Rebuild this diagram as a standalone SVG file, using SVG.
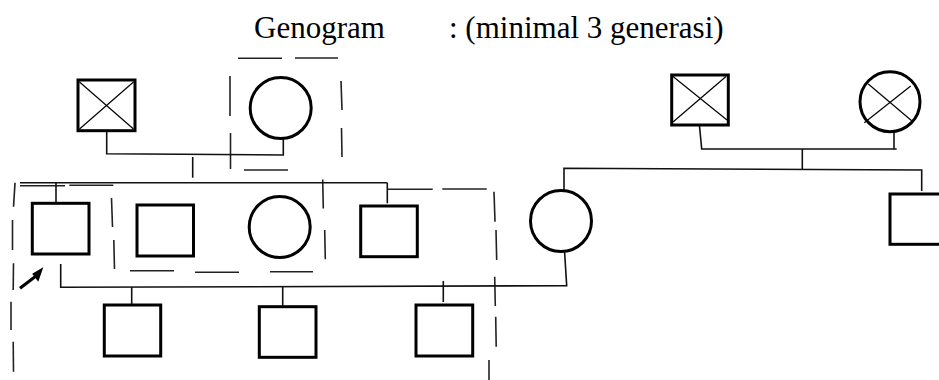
<svg xmlns="http://www.w3.org/2000/svg" width="939" height="380" viewBox="0 0 939 380">
  <defs>
    <style>
      .title { font-family: "Liberation Serif", "Times New Roman", serif; font-size: 31px; fill: #000; }
      .male, .female { fill: #fff; stroke: #000; stroke-width: 3; }
      .cross { stroke: #000; stroke-width: 1.2; fill: none; }
      .link { stroke: #111; stroke-width: 1.6; fill: none; }
      .dash { stroke: #222; stroke-width: 1.6; fill: none; }
    </style>
  </defs>

  <rect width="939" height="380" fill="#fff"/>

  <!-- heading -->
  <text class="title" x="254" y="38">Genogram</text>
  <text class="title" x="449" y="38">: (minimal 3 generasi)</text>

  <!-- household boundaries (dashed, hand drawn) -->
  <g id="boundaries" class="dash">
    <!-- around the paternal grandmother -->
    <line x1="238" y1="58.3" x2="282" y2="58.3"/>
    <line x1="295" y1="58" x2="338" y2="58"/>
    <line x1="230" y1="76" x2="230" y2="116"/>
    <line x1="230.5" y1="133" x2="230.5" y2="169"/>
    <line x1="341" y1="81" x2="342" y2="110"/>
    <line x1="341.5" y1="128" x2="342" y2="157"/>
    <line x1="244" y1="170" x2="288" y2="170"/>
    <!-- around the inner siblings -->
    <line x1="111.5" y1="198" x2="112.5" y2="227"/>
    <line x1="113.8" y1="240" x2="114.5" y2="269"/>
    <line x1="130" y1="270.7" x2="174" y2="270.7"/>
    <line x1="195" y1="272.3" x2="239" y2="272.3"/>
    <line x1="270" y1="271.7" x2="313" y2="271.7"/>
    <line x1="322.7" y1="179.5" x2="323.3" y2="208.5"/>
    <line x1="324.7" y1="230" x2="325.3" y2="259.3"/>
    <!-- around the proband's household -->
    <line x1="20" y1="185.7" x2="65" y2="185.7"/>
    <line x1="69.3" y1="185.3" x2="113.3" y2="185.3"/>
    <line x1="15" y1="182.7" x2="13.5" y2="206.7"/>
    <line x1="12.5" y1="220" x2="12.5" y2="250"/>
    <line x1="13.5" y1="263.3" x2="13.2" y2="290"/>
    <line x1="11" y1="301.7" x2="11" y2="330"/>
    <line x1="13.2" y1="341.7" x2="13.5" y2="371.7"/>
    <line x1="388" y1="189.3" x2="432.7" y2="189.3"/>
    <line x1="442.3" y1="189" x2="486.7" y2="189"/>
    <line x1="494" y1="191.7" x2="495" y2="221.7"/>
    <line x1="496" y1="230" x2="496.7" y2="260"/>
    <line x1="494.7" y1="276.7" x2="495.3" y2="306"/>
    <line x1="495.7" y1="316.7" x2="496.2" y2="346.7"/>
    <line x1="489" y1="360" x2="489" y2="380"/>
  </g>

  <!-- relationship lines -->
  <g id="connectors" class="link">
    <!-- paternal grandparents -->
    <polyline points="106.7,131 106.7,153.7 283.3,155 283.3,138.7"/>
    <line x1="192.7" y1="157" x2="192.7" y2="177.7"/>
    <!-- sibling line of the middle generation -->
    <line x1="20" y1="182.7" x2="387.3" y2="182.7"/>
    <line x1="56" y1="182.7" x2="56" y2="203.3"/>
    <line x1="387.3" y1="182.7" x2="387.3" y2="203.3"/>
    <!-- maternal grandparents -->
    <polyline points="699.3,124 701.7,149 896.7,149"/>
    <line x1="894" y1="126.7" x2="894" y2="149"/>
    <line x1="802.3" y1="149" x2="802.3" y2="170"/>
    <polyline points="564,190 564,168.3 921.7,170 921.7,191"/>
    <!-- marriage of the proband's parents -->
    <polyline points="60.7,264 60.7,287.3 566.7,285.7 564.5,250.7"/>
    <!-- children -->
    <line x1="131.7" y1="287" x2="131.7" y2="305"/>
    <line x1="282.7" y1="286" x2="282.7" y2="306.7"/>
    <line x1="443.3" y1="281" x2="443.3" y2="302"/>
  </g>

  <!-- proband pointer -->
  <g id="pointer">
    <line x1="20" y1="288.3" x2="36" y2="276" stroke="#000" stroke-width="3"/>
    <polygon points="43.3,267.3 32.2,273.8 38.3,281.7" fill="#000"/>
  </g>

  <!-- first generation -->
  <g id="pgf">
    <rect class="male" x="78" y="80" width="57" height="50.7"/>
    <line class="cross" x1="79.5" y1="82" x2="133.5" y2="129"/>
    <line class="cross" x1="133.5" y1="82" x2="79.5" y2="129"/>
  </g>
  <g id="pgm">
    <circle class="female" cx="280.7" cy="108" r="30.5"/>
  </g>
  <g id="mgf">
    <rect class="male" x="671.7" y="75" width="56.6" height="50"/>
    <line class="cross" x1="673" y1="76.5" x2="727" y2="120"/>
    <line class="cross" x1="726" y1="76.5" x2="673" y2="122"/>
  </g>
  <g id="mgm">
    <circle class="female" cx="890" cy="101.7" r="30"/>
    <line class="cross" x1="868.3" y1="84" x2="911.7" y2="120.7"/>
    <line class="cross" x1="910.7" y1="86" x2="864.3" y2="122.7"/>
  </g>

  <!-- second generation -->
  <g id="proband">
    <rect class="male" x="32.3" y="203.3" width="56.7" height="50.7"/>
  </g>
  <g id="brother1">
    <rect class="male" x="137" y="205" width="56.5" height="51"/>
  </g>
  <g id="sister">
    <circle class="female" cx="279.7" cy="227" r="30.5"/>
  </g>
  <g id="brother2">
    <rect class="male" x="360.7" y="206" width="56.6" height="50.7"/>
  </g>
  <g id="mother">
    <circle class="female" cx="561" cy="221" r="30.5"/>
  </g>
  <g id="uncle">
    <rect class="male" x="890" y="194" width="56" height="50.3"/>
  </g>

  <!-- third generation -->
  <g id="child1">
    <rect class="male" x="104.3" y="305" width="56.4" height="51"/>
  </g>
  <g id="child2">
    <rect class="male" x="259.3" y="306.7" width="56.7" height="50.6"/>
  </g>
  <g id="child3">
    <rect class="male" x="416" y="305" width="56.7" height="51"/>
  </g>
</svg>
